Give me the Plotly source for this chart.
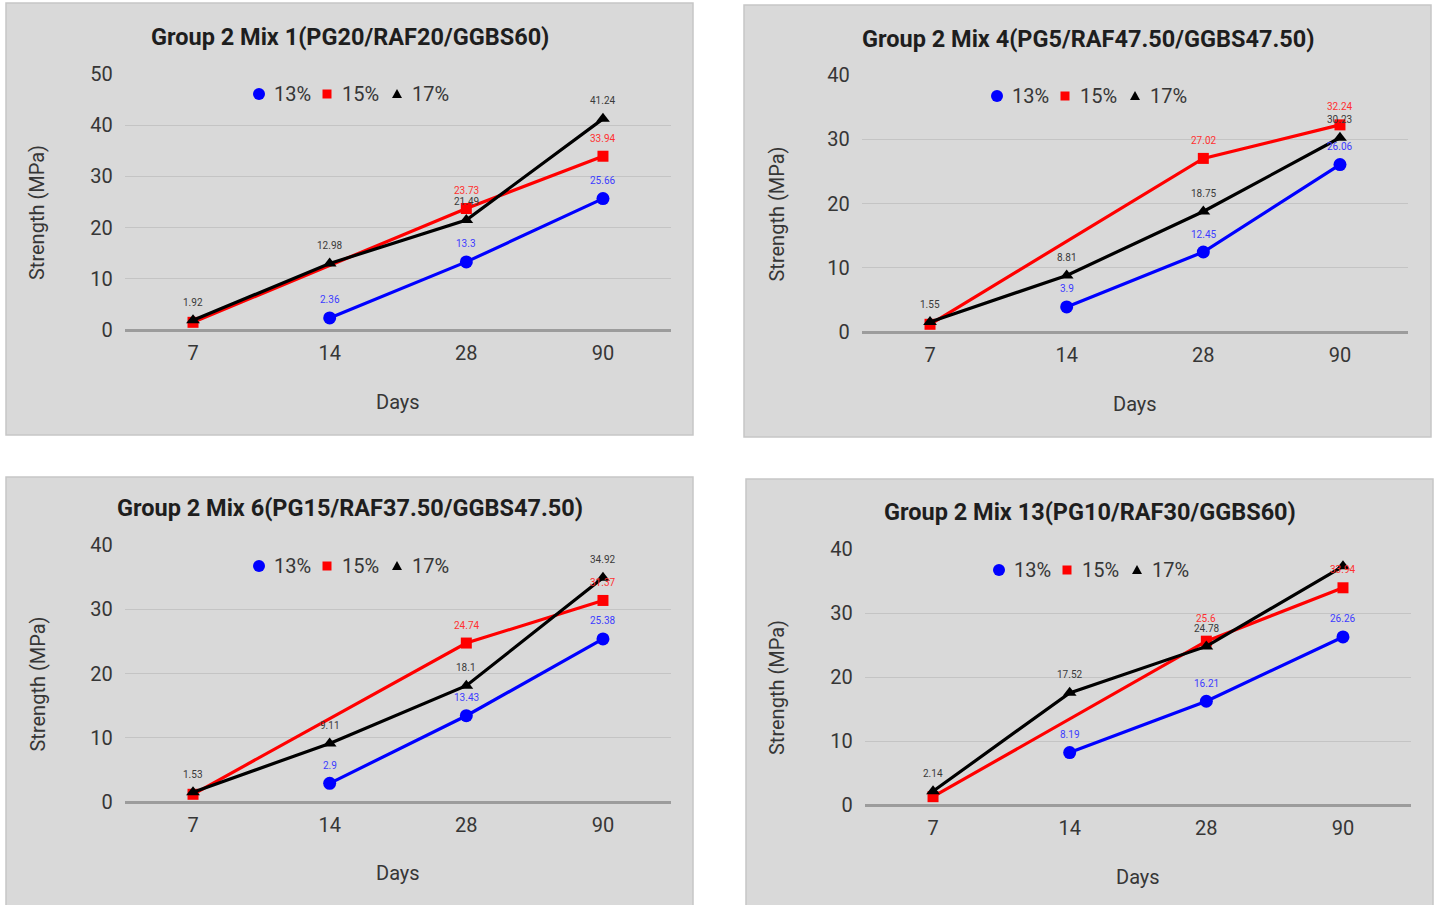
import plotly.graph_objects as go

# Curing ages (days) shared by every panel
days = ["7", "14", "28", "90"]
series_names = ["13%", "15%", "17%"]

# Group 2 Mix 1 (PG20/RAF20/GGBS60)
mix1_13 = [None, 2.36, 13.3, 25.66]
mix1_15 = [1.5, None, 23.73, 33.94]
mix1_17 = [1.92, 12.98, 21.49, 41.24]

# Group 2 Mix 4 (PG5/RAF47.50/GGBS47.50)
mix4_13 = [None, 3.9, 12.45, 26.06]
mix4_15 = [1.2, None, 27.02, 32.24]
mix4_17 = [1.55, 8.81, 18.75, 30.23]

# Group 2 Mix 6 (PG15/RAF37.50/GGBS47.50)
mix6_13 = [None, 2.9, 13.43, 25.38]
mix6_15 = [1.2, None, 24.74, 31.37]
mix6_17 = [1.53, 9.11, 18.1, 34.92]

# Group 2 Mix 13 (PG10/RAF30/GGBS60)
mix13_13 = [None, 8.19, 16.21, 26.26]
mix13_15 = [1.3, None, 25.6, 33.94]
mix13_17 = [2.14, 17.52, 24.78, 37.3]

# value labels that are hidden under neighbouring labels (series index -> day indices)
mix1_hidden = {1: [0]}
mix4_hidden = {1: [0]}
mix6_hidden = {1: [0]}
mix13_hidden = {1: [0], 2: [3]}

# extra upward nudge (px) for crowded labels: (series index, day index) -> px
mix13_nudge = {(1, 2): 5}

W, H = 1438, 905
FONT = "Roboto"
TXT = "#363636"

colors = ["#0000ff", "#ff0000", "#000000"]
label_colors = ["#3c3cff", "#ff3030", "#3a3a3a"]
symbols = ["circle", "square", "triangle-up"]
msizes = [13, 11, 12]

# panel layout in pixels: card box, plot box, axis max
panels = [
    dict(title="Group 2 Mix 1(PG20/RAF20/GGBS60)", data=[mix1_13, mix1_15, mix1_17],
         hidden=mix1_hidden, nudge={}, ymax=50,
         card=(6, 3, 693, 435), plot=(124.7, 74, 671.3, 330),
         title_y=37, legend_y=94, days_y=402, ylab_x=37),
    dict(title="Group 2 Mix 4(PG5/RAF47.50/GGBS47.50)", data=[mix4_13, mix4_15, mix4_17],
         hidden=mix4_hidden, nudge={}, ymax=40,
         card=(744, 5, 1431, 437), plot=(861.7, 75, 1408.3, 332),
         title_y=39, legend_y=96, days_y=404, ylab_x=776),
    dict(title="Group 2 Mix 6(PG15/RAF37.50/GGBS47.50)", data=[mix6_13, mix6_15, mix6_17],
         hidden=mix6_hidden, nudge={}, ymax=40,
         card=(6, 477, 693, 920), plot=(124.7, 545, 671.3, 802),
         title_y=508, legend_y=566, days_y=873, ylab_x=37),
    dict(title="Group 2 Mix 13(PG10/RAF30/GGBS60)", data=[mix13_13, mix13_15, mix13_17],
         hidden=mix13_hidden, nudge=mix13_nudge, ymax=40,
         card=(746, 479, 1433, 920), plot=(864.7, 549, 1411.3, 805),
         title_y=512, legend_y=570, days_y=877, ylab_x=777),
]

# legend key layout relative to card centre: (symbol x, text x) in pixels
legend_offsets = [(-90.5, -78), (-22.5, -10), (47.5, 60)]


def fx(px):
    return px / W


def fy(py):
    return 1 - py / H


def legend_symbol(kind, cx, cy, color):
    if kind == "circle":
        r = 6
        return dict(type="circle", xref="paper", yref="paper",
                    x0=fx(cx - r), x1=fx(cx + r), y0=fy(cy + r), y1=fy(cy - r),
                    fillcolor=color, line=dict(width=0))
    if kind == "square":
        r = 4.5
        return dict(type="rect", xref="paper", yref="paper",
                    x0=fx(cx - r), x1=fx(cx + r), y0=fy(cy + r), y1=fy(cy - r),
                    fillcolor=color, line=dict(width=0))
    r = 5
    path = (f"M {fx(cx - r)},{fy(cy + r * 0.8)} L {fx(cx + r)},{fy(cy + r * 0.8)} "
            f"L {fx(cx)},{fy(cy - r)} Z")
    return dict(type="path", xref="paper", yref="paper", path=path,
                fillcolor=color, line=dict(width=0))


fig = go.Figure()
shapes, annotations = [], []
layout_axes = {}

for i, p in enumerate(panels):
    n = i + 1
    xa = "x" if n == 1 else f"x{n}"
    ya = "y" if n == 1 else f"y{n}"
    x0, y0, x1, y1 = p["plot"]
    cx0, cy0, cx1, cy1 = p["card"]
    ccx = (cx0 + cx1) / 2

    # card background
    shapes.append(dict(type="rect", xref="paper", yref="paper",
                       x0=fx(cx0), x1=fx(cx1), y0=fy(cy1), y1=fy(cy0),
                       fillcolor="#d9d9d9", line=dict(color="#c6c6c6", width=1.5),
                       layer="below"))

    for s, values in enumerate(p["data"]):
        fig.add_trace(go.Scatter(
            x=days, y=values, xaxis=xa, yaxis=ya, mode="lines+markers",
            name=series_names[s], showlegend=False, connectgaps=True,
            line=dict(color=colors[s], width=3.2),
            marker=dict(color=colors[s], symbol=symbols[s], size=msizes[s]),
            cliponaxis=False,
        ))
    # value labels above each point (x given as category index)
    for s, values in enumerate(p["data"]):
        hide = p["hidden"].get(s, [])
        for k, v in enumerate(values):
            if v is None or k in hide:
                continue
            annotations.append(dict(
                text=f"{v:g}", x=k, y=v, xref=xa, yref=ya,
                showarrow=False, yshift=18 + p["nudge"].get((s, k), 0),
                xanchor="center", yanchor="middle",
                font=dict(family=FONT, size=10, color=label_colors[s]),
            ))

    # legend keys
    for s, (sx, tx) in enumerate(legend_offsets):
        shapes.append(legend_symbol(symbols[s], ccx + sx, p["legend_y"], colors[s]))
        annotations.append(dict(text=series_names[s], xref="paper", yref="paper",
                                x=fx(ccx + tx), y=fy(p["legend_y"]),
                                xanchor="left", yanchor="middle", showarrow=False,
                                font=dict(family=FONT, size=20, color=TXT)))

    layout_axes["xaxis" if n == 1 else f"xaxis{n}"] = dict(
        domain=[fx(x0), fx(x1)], anchor=ya, type="category",
        categoryorder="array", categoryarray=days, range=[-0.5, 3.5],
        showgrid=False, showline=False, zeroline=False, ticks="",
        ticklabelstandoff=9, tickfont=dict(family=FONT, size=20, color=TXT),
    )
    layout_axes["yaxis" if n == 1 else f"yaxis{n}"] = dict(
        domain=[fy(y1), fy(y0)], anchor=xa, range=[0, p["ymax"]], dtick=10,
        showgrid=True, gridcolor="#c4c4c4", gridwidth=1.3,
        zeroline=True, zerolinecolor="#9c9c9c", zerolinewidth=2.8,
        showline=False, ticks="", ticklabelstandoff=11,
        tickfont=dict(family=FONT, size=20, color=TXT),
    )

    annotations.append(dict(text=f"<b>{p['title']}</b>", xref="paper", yref="paper",
                            x=fx(ccx), y=fy(p["title_y"]),
                            xanchor="center", yanchor="middle", showarrow=False,
                            font=dict(family=FONT, size=23.5, color="#1e1e1e")))
    annotations.append(dict(text="Days", xref="paper", yref="paper",
                            x=fx((x0 + x1) / 2), y=fy(p["days_y"]),
                            xanchor="center", yanchor="middle", showarrow=False,
                            font=dict(family=FONT, size=20, color=TXT)))
    annotations.append(dict(text="Strength (MPa)", xref="paper", yref="paper",
                            x=fx(p["ylab_x"]), y=fy((y0 + y1) / 2 + 11),
                            xanchor="center", yanchor="middle", showarrow=False,
                            textangle=-90,
                            font=dict(family=FONT, size=20, color=TXT)))

fig.update_layout(
    width=W, height=H, margin=dict(l=0, r=0, t=0, b=0, autoexpand=False),
    paper_bgcolor="white", plot_bgcolor="rgba(0,0,0,0)", showlegend=False,
    shapes=shapes, annotations=annotations, **layout_axes,
)

fig.write_html("out.html")
